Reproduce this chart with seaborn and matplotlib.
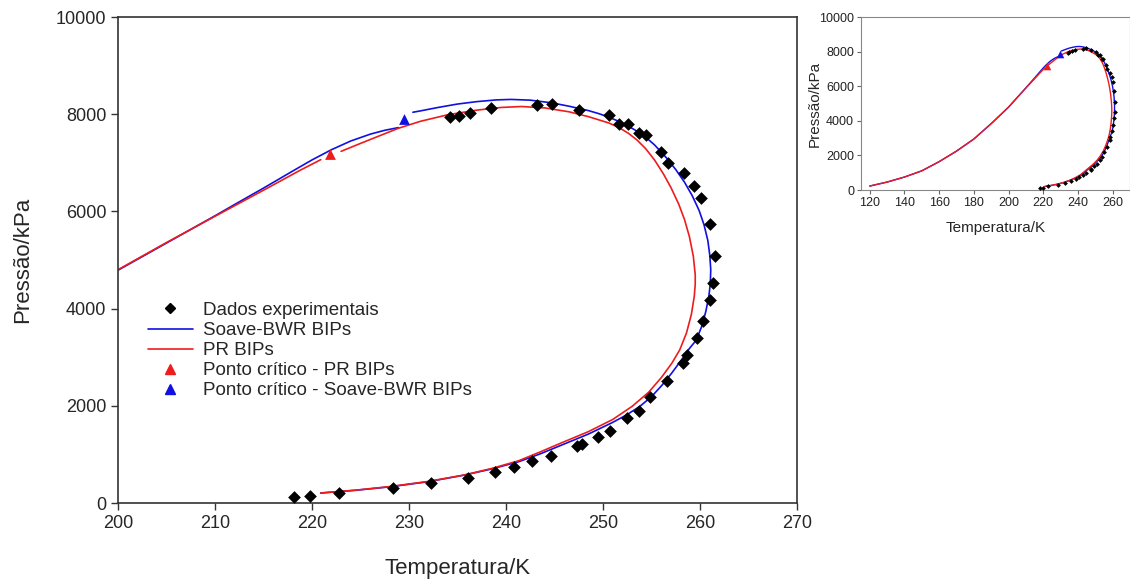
import matplotlib
matplotlib.use("Agg")
import matplotlib.pyplot as plt
import seaborn as sns
from matplotlib.lines import Line2D

# Experimental data (T in K, P in kPa)
exp_T = [218.1, 219.8, 222.8, 228.3, 232.3, 236.1, 238.9, 240.8, 242.7, 244.6,
         247.3, 247.8, 249.5, 250.7, 252.5, 253.7, 254.8, 256.6, 258.2, 258.6,
         259.7, 260.3, 261.0, 261.3, 261.5, 261.0, 260.1, 259.4, 258.3, 256.7,
         256.0, 254.4, 253.7, 252.6, 251.6, 250.6, 247.5, 244.7, 243.2, 238.4,
         236.3, 235.1, 234.2]
exp_P = [124, 144, 206, 309, 412, 515, 639, 742, 866, 969,
         1175, 1216, 1361, 1485, 1753, 1897, 2186, 2515, 2887, 3052,
         3402, 3753, 4186, 4536, 5093, 5732, 6268, 6515, 6784, 6990,
         7216, 7567, 7608, 7794, 7794, 7979, 8082, 8206, 8186, 8124,
         8021, 7959, 7938]

# Soave-BWR BIPs envelope (dew branch up to the critical point, then the rest)
bwr_T1 = [120, 130, 140, 150, 160, 170, 180, 190, 200, 205, 210, 212,
          215, 218, 220, 222, 224, 226, 227.5, 228.9]
bwr_P1 = [230, 460, 750, 1110, 1640, 2250, 2950, 3840, 4790, 5350, 5910, 6140,
          6480, 6830, 7060, 7270, 7450, 7590, 7670, 7725]
bwr_T2 = [230.4, 231.2, 233.0, 235.0, 237.0, 239.0, 240.5, 242.5, 244.7, 246.5,
          248.5, 249.6, 250.6, 251.6, 252.6, 253.6, 254.5, 255.3, 256.5, 257.5,
          258.4, 259.2, 259.9, 260.4, 260.8, 261.0, 261.1, 261.05, 260.9, 260.6,
          260.2, 259.6, 258.9, 258.1, 257.1, 256.1, 255.0, 253.8, 252.4, 250.9,
          248.5, 245.7, 243.5, 241.3, 238.5, 235.7, 232.0, 228.1, 224.5, 220.9]
bwr_P2 = [8041, 8070, 8140, 8210, 8260, 8295, 8305, 8290, 8235, 8165,
          8075, 8010, 7940, 7855, 7755, 7640, 7510, 7370, 7110, 6860,
          6600, 6320, 6020, 5730, 5400, 5100, 4800, 4500, 4250, 3950,
          3650, 3350, 3180, 2950, 2680, 2430, 2190, 1990, 1810, 1650,
          1420, 1190, 1010, 850, 700, 575, 440, 335, 262, 206]

# PR BIPs envelope
pr_T1 = [120, 130, 140, 150, 160, 170, 180, 190, 200, 205, 210, 215.4,
         218.8, 220.9]
pr_P1 = [230, 460, 750, 1110, 1640, 2250, 2950, 3840, 4800, 5360, 5900, 6480,
         6850, 7065]
pr_T2 = [223.0, 225.0, 227.0, 228.9, 231.2, 234.0, 237.0, 239.5, 241.6, 244.0,
         246.5, 248.5, 250.6, 251.6, 252.6, 253.5, 254.4, 255.3, 256.2, 257.0,
         257.8, 258.4, 258.9, 259.3, 259.5, 259.5, 259.4, 259.1, 258.6, 257.9,
         257.1, 256.0, 254.7, 253.0, 251.0, 248.5, 245.7, 243.5, 241.3, 238.5,
         235.7, 232.0, 228.1, 224.5, 220.9]
pr_P2 = [7237, 7400, 7560, 7711, 7856, 7990, 8085, 8140, 8159, 8130,
         8050, 7950, 7820, 7730, 7610, 7470, 7290, 7060, 6780, 6490,
         6150, 5830, 5480, 5080, 4700, 4500, 4250, 3880, 3500, 3150,
         2880, 2580, 2280, 1990, 1720, 1470, 1237, 1050, 870, 710,
         577, 445, 340, 265, 206]

# critical points
crit_pr_T, crit_pr_P = [221.9], [7175]
crit_bwr_T, crit_bwr_P = [229.5], [7897]

RED = "#ee1c1c"
BLUE = "#1010e0"

sns.set_style("ticks")
plt.rcParams["font.family"] = ["Liberation Sans", "DejaVu Sans"]

fig = plt.figure(figsize=(11.3, 5.82), dpi=100)
ax = fig.add_axes([0.1044, 0.1357, 0.601, 0.835])
axin = fig.add_axes([0.762, 0.6735, 0.238, 0.297])


def draw(a, lw, s_exp, s_tri):
    for T, P, c in [(bwr_T1, bwr_P1, BLUE), (bwr_T2, bwr_P2, BLUE),
                    (pr_T1, pr_P1, RED), (pr_T2, pr_P2, RED)]:
        sns.lineplot(x=T, y=P, sort=False, estimator=None, color=c, lw=lw, ax=a)
    sns.scatterplot(x=exp_T, y=exp_P, marker="D", color="black", s=s_exp,
                    linewidth=0, ax=a, zorder=3)
    sns.scatterplot(x=crit_pr_T, y=crit_pr_P, marker="^", color=RED, s=s_tri,
                    linewidth=0, ax=a, zorder=4)
    sns.scatterplot(x=crit_bwr_T, y=crit_bwr_P, marker="^", color=BLUE, s=s_tri,
                    linewidth=0, ax=a, zorder=4)


# main plot
draw(ax, 1.2, 42, 60)
ax.set_xlim(200, 270)
ax.set_ylim(0, 10000)
ax.set_xticks(range(200, 271, 10))
ax.set_yticks(range(0, 10001, 2000))
ax.tick_params(labelsize=13, direction="out", length=5, width=1, color="#333333")
ax.set_xlabel("Temperatura/K", fontsize=16)
ax.set_ylabel("Pressão/kPa", fontsize=16)
ax.xaxis.set_label_coords(0.5, -0.113)
ax.yaxis.set_label_coords(-0.125, 0.5)
for s in ax.spines.values():
    s.set_color("#333333")
    s.set_linewidth(1.2)

handles = [
    Line2D([], [], marker="D", color="black", ls="none", markersize=5.5),
    Line2D([], [], color=BLUE, lw=1.2),
    Line2D([], [], color=RED, lw=1.2),
    Line2D([], [], marker="^", color=RED, ls="none", markersize=7),
    Line2D([], [], marker="^", color=BLUE, ls="none", markersize=7),
]
labels = ["Dados experimentais", "Soave-BWR BIPs", "PR BIPs",
          "Ponto crítico - PR BIPs", "Ponto crítico - Soave-BWR BIPs"]
ax.legend(handles, labels, loc="upper left", bbox_to_anchor=(0.044, 0.414),
          frameon=False, fontsize=13.5, handlelength=2.4, handletextpad=0.55,
          labelspacing=0.16, borderaxespad=0, borderpad=0)

# inset with the whole envelope
draw(axin, 1.0, 6, 30)
axin.set_xlim(115, 270)
axin.set_ylim(0, 10000)
axin.set_xticks(range(120, 261, 20))
axin.set_yticks(range(0, 10001, 2000))
axin.tick_params(labelsize=9, direction="out", length=3, width=0.8,
                 color="#666666", labelcolor="#222222", pad=2)
axin.set_xlabel("Temperatura/K", fontsize=11)
axin.set_ylabel("Pressão/kPa", fontsize=11)
axin.xaxis.set_label_coords(0.5, -0.18)
axin.yaxis.set_label_coords(-0.145, 0.5)
for s in axin.spines.values():
    s.set_color("#888888")
    s.set_linewidth(0.8)

fig.savefig("out.png", dpi=100)
